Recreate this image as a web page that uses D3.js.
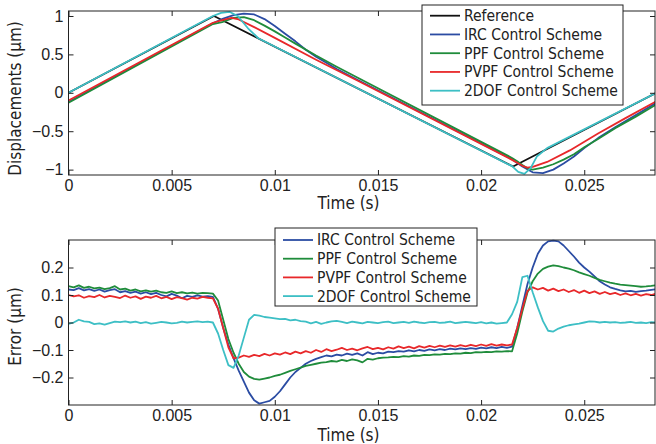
<!DOCTYPE html>
<html>
<head>
<meta charset="utf-8">
<script src="https://cdn.jsdelivr.net/npm/d3@7"></script>
<style>
  body { margin: 0; background: #fff; }
  svg { display: block; font-family: "DejaVu Sans Condensed", "DejaVu Sans", sans-serif; font-stretch: condensed; }
</style>
</head>
<body>
<div id="chart"></div>
<script>
// ---- data (time in ms) ----
const xTicks = [0, 5, 10, 15, 20, 25];
const dispTicks = [-1, -0.5, 0, 0.5, 1];
const errTicks = [-0.2, -0.1, 0, 0.1, 0.2];

const topLabels = ["Reference", "IRC Control Scheme", "PPF Control Scheme", "PVPF Control Scheme", "2DOF Control Scheme"];
const errLabels = ["IRC Control Scheme", "PPF Control Scheme", "PVPF Control Scheme", "2DOF Control Scheme"];
const colors = { ref: "#111111", irc: "#2b4ca3", ppf: "#1f8c3b", pvpf: "#e8282a", dof: "#3dbfc5" };

// displacement traces (vertices)
const refT = [0, 7.05, 21.55, 28.5];
const refY = [0, 1, -0.96, 0.0];
const ircT = [0, 7.0, 7.5, 8.0, 8.5, 9.0, 9.5, 10.0, 10.5, 11.0, 11.5, 12.0, 12.5, 13.0, 14.0, 21.5, 21.75, 22.0, 22.5, 23.0, 23.5, 24.0, 24.5, 25.0, 25.67, 26.5, 27.5, 28.5];
const ircY = [-0.12, 0.905, 0.965, 1.01, 1.03, 1.02, 0.96, 0.87, 0.77, 0.67, 0.56, 0.47, 0.39, 0.31, 0.17, -0.865, -0.915, -0.96, -1.035, -1.045, -1.0, -0.92, -0.83, -0.72, -0.59, -0.45, -0.29, -0.13];
const ppfT = [0, 7.0, 7.5, 8.0, 8.5, 9.0, 9.5, 10.0, 10.5, 11.0, 12.0, 13.0, 14.0, 21.5, 21.75, 22.0, 22.25, 22.5, 23.0, 23.5, 24.0, 24.5, 25.0, 25.67, 26.5, 27.5, 28.5];
const ppfY = [-0.13, 0.895, 0.925, 0.975, 0.985, 0.945, 0.875, 0.8, 0.72, 0.64, 0.485, 0.34, 0.2, -0.848, -0.89, -0.94, -0.985, -1.0, -0.975, -0.93, -0.87, -0.8, -0.71, -0.6, -0.46, -0.31, -0.15];
const pvpfT = [0, 7.0, 7.5, 7.9, 8.25, 9.0, 10.0, 12.0, 14.0, 21.5, 21.75, 22.0, 22.25, 22.5, 23.2, 24.3, 25.67, 27.0, 28.5];
const pvpfY = [-0.1, 0.912, 0.95, 0.975, 0.955, 0.855, 0.715, 0.43, 0.16, -0.873, -0.91, -0.95, -0.975, -0.965, -0.9, -0.75, -0.53, -0.33, -0.11];
const dofT = [0, 7.0, 7.4, 7.8, 8.2, 8.7, 9.2, 21.5, 21.8, 22.1, 22.4, 22.7, 23.2, 28.5];
const dofY = [0, 1.0, 1.04, 1.055, 1.0, 0.84, 0.71, -0.955, -1.03, -1.056, -0.98, -0.83, -0.72, 0.0];

// error traces, one sample every 0.25 ms from 0 to 28.5 ms
const errStep = 0.25;
const ircErr = [
  0.12, 0.118, 0.125, 0.117, 0.121, 0.115, 0.12, 0.112, 0.118, 0.121,
  0.11, 0.114, 0.108, 0.112, 0.105, 0.11, 0.103, 0.108, 0.1, 0.095,
  0.104, 0.098, 0.088, 0.097, 0.093, 0.099, 0.094, 0.096, 0.093,
  0.05, -0.02, -0.08, -0.13, -0.175, -0.215, -0.255, -0.283, -0.295, -0.29,
  -0.285, -0.27, -0.25, -0.225, -0.2, -0.18, -0.165, -0.15, -0.14, -0.132,
  -0.126, -0.12, -0.123, -0.117, -0.12, -0.113, -0.118, -0.112,
  -0.12, -0.108, -0.115, -0.11, -0.112, -0.106, -0.108, -0.104, -0.106, -0.101,
  -0.105, -0.1, -0.103, -0.098, -0.101, -0.097, -0.1, -0.095, -0.098, -0.094,
  -0.097, -0.093, -0.096, -0.091, -0.094, -0.09, -0.093, -0.089, -0.092, -0.088,
  -0.02, 0.06, 0.14, 0.2, 0.25, 0.28, 0.295, 0.298, 0.295, 0.28,
  0.26, 0.24, 0.218, 0.2, 0.185, 0.168, 0.15, 0.138, 0.128, 0.122,
  0.117, 0.113, 0.115, 0.111, 0.114, 0.116, 0.119, 0.121
];
const ppfErr = [
  0.132, 0.128, 0.135, 0.126, 0.13, 0.124, 0.127, 0.121, 0.125, 0.132,
  0.12, 0.123, 0.116, 0.12, 0.113, 0.117, 0.112, 0.116, 0.11, 0.108,
  0.113, 0.107, 0.11, 0.106, 0.109, 0.105, 0.108, 0.107, 0.105,
  0.08, 0.01, -0.06, -0.11, -0.15, -0.18, -0.197, -0.205, -0.208, -0.204,
  -0.2, -0.194, -0.19, -0.183, -0.176, -0.17, -0.164, -0.158, -0.154, -0.15,
  -0.146, -0.144, -0.14, -0.142, -0.136, -0.14, -0.134, -0.138,
  -0.145, -0.132, -0.135, -0.13, -0.128, -0.127, -0.125, -0.126, -0.122, -0.124,
  -0.12, -0.121, -0.118, -0.119, -0.116, -0.117, -0.114, -0.115, -0.112, -0.113,
  -0.11, -0.111, -0.108, -0.109, -0.107, -0.108, -0.105, -0.106, -0.104, -0.105,
  -0.04, 0.04, 0.11, 0.15, 0.178, 0.195, 0.203, 0.208, 0.205, 0.2,
  0.196, 0.19, 0.182, 0.176, 0.17, 0.162, 0.155, 0.15, 0.145, 0.141,
  0.138, 0.136, 0.134, 0.132, 0.13, 0.131, 0.133, 0.136
];
const pvpfErr = [
  0.1, 0.095, 0.099, 0.09, 0.096, 0.092, 0.1, 0.091, 0.097, 0.093,
  0.089, 0.098, 0.09, 0.095, 0.086, 0.094, 0.09, 0.097, 0.088, 0.093,
  0.085, 0.092, 0.089, 0.083, 0.09, 0.087, 0.093, 0.09, 0.088,
  0.05, -0.02, -0.09, -0.13, -0.128, -0.12, -0.125, -0.118, -0.122, -0.114,
  -0.12, -0.112, -0.117, -0.109, -0.115, -0.106, -0.112, -0.104, -0.11, -0.1,
  -0.107, -0.097, -0.104, -0.099, -0.092, -0.1, -0.095, -0.101,
  -0.094, -0.089, -0.097, -0.092, -0.098, -0.09, -0.095, -0.087, -0.093, -0.088,
  -0.094, -0.086, -0.091, -0.085, -0.09, -0.084, -0.089, -0.083, -0.088, -0.082,
  -0.087, -0.081, -0.086, -0.08, -0.085, -0.079, -0.084, -0.08, -0.083, -0.08,
  -0.02, 0.05, 0.115, 0.128, 0.12, 0.126, 0.116, 0.123, 0.114, 0.12,
  0.111, 0.118, 0.108, 0.116, 0.107, 0.113, 0.104, 0.111, 0.103, 0.108,
  0.1, 0.106, 0.099, 0.104, 0.098, 0.103, 0.1, 0.105
];
const dofErr = [
  -0.005, 0.0, 0.01, 0.004, 0.002, -0.006, -0.003, -0.008, -0.002, 0.003,
  0.001, 0.004, 0.0, 0.003, -0.002, 0.001, -0.004, -0.001, 0.002, 0.0,
  -0.003, -0.001, 0.003, 0.0, 0.002, 0.004, 0.001, 0.003, 0.0,
  -0.04, -0.1, -0.155, -0.165, -0.12, -0.055, 0.01, 0.028, 0.025, 0.02,
  0.018, 0.015, 0.012, 0.013, 0.008, 0.01, 0.005, 0.003, -0.003, 0.002,
  -0.005, 0.0, 0.004, 0.006, 0.002, -0.002, 0.003, 0.0,
  -0.003, 0.002, 0.0, -0.002, 0.001, 0.003, -0.002, 0.0, 0.002, -0.001,
  0.003, 0.0, -0.002, 0.001, 0.002, -0.001, 0.0, 0.003, -0.002, 0.0,
  0.002, 0.0, -0.002, 0.001, -0.003, 0.0, -0.004, -0.002, 0.0, 0.03,
  0.075, 0.165, 0.17, 0.11, 0.055, 0.005, -0.03, -0.033, -0.022, -0.015,
  -0.01, -0.007, -0.004, 0.0, 0.004, 0.003, 0.0, 0.002, 0.0, 0.001,
  -0.001, 0.0, 0.002, -0.001, 0.0, -0.002, 0.001, 0.0
];

// ---- layout ----
const W = 656, H = 444;
const plotLeft = 68.5, plotRight = 655;

const svg = d3.select("#chart").append("svg")
  .attr("width", W)
  .attr("height", H);

const x = d3.scaleLinear().domain([0, 28.43]).range([plotLeft, plotRight]);

const fmtMinus = d => d3.format("")(d).replace("-", "\u2212");

function zip(ts, ys) {
  return ts.map((t, i) => [t, ys[i]]);
}
function sampled(vals) {
  return vals.map((v, i) => [i * errStep, v]);
}

function drawPanel(p) {
  const y = d3.scaleLinear().domain(p.yDomain).range([p.bottom, p.top]);
  const g = svg.append("g");

  const clipId = "clip-" + p.id;
  svg.append("defs").append("clipPath").attr("id", clipId)
    .append("rect")
    .attr("x", plotLeft).attr("y", p.top - 1)
    .attr("width", plotRight - plotLeft).attr("height", p.bottom - p.top + 2);

  const line = d3.line().x(d => x(d[0])).y(d => y(d[1]));

  const lines = g.append("g").attr("clip-path", `url(#${clipId})`);
  p.series.forEach(s => {
    lines.append("path")
      .datum(s.data)
      .attr("fill", "none")
      .attr("stroke", s.color)
      .attr("stroke-width", 1.8)
      .attr("stroke-linejoin", "round")
      .attr("d", line);
  });

  // box with inward ticks on all four sides
  const tickStyle = sel => {
    sel.select(".domain").remove();
    sel.selectAll(".tick line").attr("stroke", "#222").attr("stroke-width", 1);
    sel.selectAll(".tick text").attr("fill", "#222").style("font-size", "16px");
  };

  g.append("g")
    .attr("transform", `translate(0,${p.bottom})`)
    .call(d3.axisBottom(x).tickValues(xTicks).tickSizeInner(-5).tickSizeOuter(0).tickPadding(5)
      .tickFormat(d => d === 0 ? "0" : d3.format("")(d / 1000)))
    .call(tickStyle);
  g.append("g")
    .attr("transform", `translate(0,${p.top})`)
    .call(d3.axisTop(x).tickValues(xTicks).tickSizeInner(-5).tickSizeOuter(0).tickFormat(""))
    .call(tickStyle);
  g.append("g")
    .attr("transform", `translate(${plotLeft},0)`)
    .call(d3.axisLeft(y).tickValues(p.yTicks).tickSizeInner(-5).tickSizeOuter(0).tickPadding(5)
      .tickFormat(fmtMinus))
    .call(tickStyle);
  g.append("g")
    .attr("transform", `translate(${plotRight},0)`)
    .call(d3.axisRight(y).tickValues(p.yTicks).tickSizeInner(-5).tickSizeOuter(0).tickFormat(""))
    .call(tickStyle);

  g.append("rect")
    .attr("x", plotLeft).attr("y", p.top)
    .attr("width", plotRight - plotLeft).attr("height", p.bottom - p.top)
    .attr("fill", "none").attr("stroke", "#222").attr("stroke-width", 1);

  // axis titles
  g.append("text")
    .attr("x", 348.5).attr("y", p.xLabelY)
    .attr("text-anchor", "middle")
    .attr("fill", "#222")
    .style("font-size", "17px")
    .text("Time (s)");
  g.append("text")
    .attr("transform", `translate(21,${p.yLabelMid}) rotate(-90)`)
    .attr("text-anchor", "middle")
    .attr("fill", "#222")
    .style("font-size", "17px")
    .text(p.yLabel);

  // legend
  const L = p.legend;
  const lg = g.append("g");
  lg.append("rect")
    .attr("x", L.x).attr("y", L.y).attr("width", L.w).attr("height", L.h)
    .attr("fill", "#fff").attr("stroke", "#222").attr("stroke-width", 1);
  p.series.forEach((s, i) => {
    const cy = L.firstRow + i * L.rowGap;
    lg.append("line")
      .attr("x1", L.x + 8).attr("x2", L.x + 38)
      .attr("y1", cy).attr("y2", cy)
      .attr("stroke", s.color).attr("stroke-width", 1.8);
    lg.append("text")
      .attr("x", L.x + 42).attr("y", cy)
      .attr("dy", "0.35em")
      .attr("fill", "#222")
      .style("font-size", "15.5px")
      .text(s.label);
  });
}

drawPanel({
  id: "disp",
  top: 11, bottom: 175,
  yDomain: [-1.07, 1.065],
  yTicks: dispTicks,
  yLabel: "Displacements (\u00b5m)",
  yLabelMid: 98.5,
  xLabelY: 209,
  series: [
    { label: topLabels[0], color: colors.ref, data: zip(refT, refY) },
    { label: topLabels[1], color: colors.irc, data: zip(ircT, ircY) },
    { label: topLabels[2], color: colors.ppf, data: zip(ppfT, ppfY) },
    { label: topLabels[3], color: colors.pvpf, data: zip(pvpfT, pvpfY) },
    { label: topLabels[4], color: colors.dof, data: zip(dofT, dofY) }
  ],
  legend: { x: 422, y: 5, w: 201, h: 100, firstRow: 15.7, rowGap: 18.75 }
});

drawPanel({
  id: "err",
  top: 240, bottom: 405,
  yDomain: [-0.3, 0.3],
  yTicks: errTicks,
  yLabel: "Error (\u00b5m)",
  yLabelMid: 326.5,
  xLabelY: 441,
  series: [
    { label: errLabels[0], color: colors.irc, data: sampled(ircErr) },
    { label: errLabels[1], color: colors.ppf, data: sampled(ppfErr) },
    { label: errLabels[2], color: colors.pvpf, data: sampled(pvpfErr) },
    { label: errLabels[3], color: colors.dof, data: sampled(dofErr) }
  ],
  legend: { x: 275, y: 228, w: 202, h: 78, firstRow: 240, rowGap: 18.7 }
});
</script>
</body>
</html>
